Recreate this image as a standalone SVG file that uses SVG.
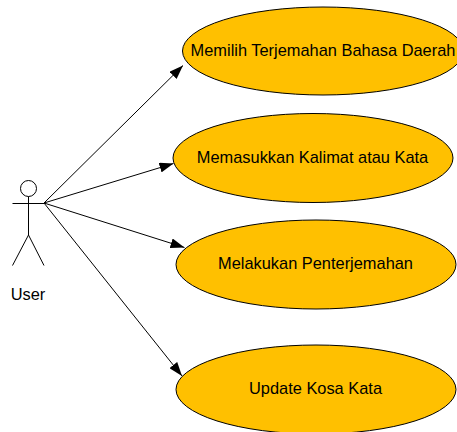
<svg xmlns="http://www.w3.org/2000/svg" width="457" height="432" viewBox="0 0 457 432">
<style>
.uc{fill:#ffc000;stroke:#000;stroke-width:1}
.t{font-family:"Liberation Sans",Arial,sans-serif;font-size:16.4px;fill:#000;text-anchor:middle}
.a{stroke:#000;stroke-width:1;fill:none;marker-end:url(#arrow)}
.s{stroke:#000;stroke-width:1;fill:none}
</style>
<defs>
<marker id="arrow" markerUnits="userSpaceOnUse" viewBox="0 0 14 10" refX="14" refY="5" markerWidth="14" markerHeight="10" orient="auto"><path d="M0 0L14 5L0 10Z" fill="#000"/></marker>
</defs>
<rect width="457" height="432" fill="#fff"/>
<g id="connectors">
<line class="a" x1="44" y1="203" x2="183" y2="65.5"/>
<line class="a" x1="44" y1="203" x2="173.5" y2="163.5"/>
<line class="a" x1="44" y1="203" x2="184.5" y2="247.5"/>
<line class="a" x1="44" y1="203" x2="182" y2="376"/>
</g>
<g id="user">
<circle class="s" cx="28.5" cy="188.5" r="8"/>
<path class="s" d="M12.5 203.500H44.500M28.500 196.500V235L12.500 265.500M28.500 235L44 265.500"/>
<text class="t" x="28" y="300">User</text>
</g>
<g id="uc1"><ellipse class="uc" cx="323" cy="51" rx="140.500" ry="44"/><text class="t" x="323" y="55.500">Memilih Terjemahan Bahasa Daerah</text></g>
<g id="uc2"><ellipse class="uc" cx="313" cy="158" rx="140" ry="44.500"/><text class="t" x="312.500" y="162.500">Memasukkan Kalimat atau Kata</text></g>
<g id="uc3"><ellipse class="uc" cx="316" cy="264.500" rx="140" ry="44.500"/><text class="t" x="315.500" y="269">Melakukan Penterjemahan</text></g>
<g id="uc4"><ellipse class="uc" cx="316" cy="389.500" rx="140" ry="44.500"/><text class="t" x="315.500" y="394">Update Kosa Kata</text></g>
</svg>
